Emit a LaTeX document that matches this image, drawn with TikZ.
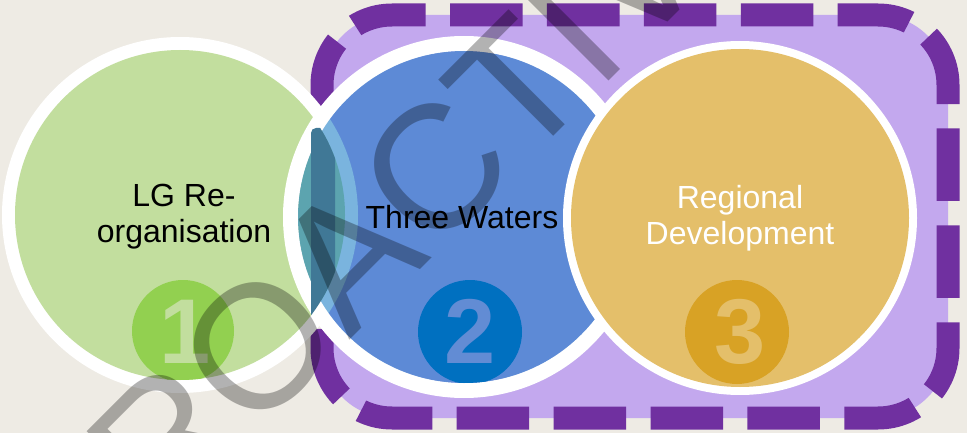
\documentclass[tikz,border=0pt]{standalone}
\usepackage{fontspec}
\setmainfont{Liberation Sans}
\definecolor{bgc}{RGB}{238,235,228}
\definecolor{purpleFill}{RGB}{195,168,238}
\definecolor{purpleDash}{RGB}{112,48,160}
\definecolor{greenF}{RGB}{194,222,158}
\definecolor{greenN}{RGB}{146,208,80}
\definecolor{blueN}{RGB}{0,112,192}
\definecolor{blueVis}{RGB}{98,140,212}
\definecolor{goldF}{RGB}{228,191,106}
\definecolor{goldN}{RGB}{216,162,37}
\definecolor{bandc}{RGB}{64,120,150}
\begin{document}
\begin{tikzpicture}[x=1pt,y=-1pt,
  lbl/.style={font=\fontsize{32}{36}\selectfont, align=center, inner sep=0pt},
  digit/.style={font=\fontsize{92}{92}\selectfont\bfseries, inner sep=0pt, anchor=base},
  ring/.style={white}]
\useasboundingbox (0,0) rectangle (967,433);
\clip (0,0) rectangle (967,433);
\fill[bgc] (0,0) rectangle (967,433);
% purple dashed group
\filldraw[fill=purpleFill, draw=purpleDash, line width=23pt,
  dash pattern=on 72.5pt off 24.39pt, rounded corners=70pt]
  (477,15) -- (948,15) -- (948,418) -- (322,418) -- (322,15) -- cycle;
% green circle
\fill[ring] (180,215) circle (178);
\fill[greenF] (180,215) circle (165);
\begin{scope}
  \clip (180,215) circle (165);
  \fill[greenN] (183,331) circle (51);
\end{scope}
\node[digit, text=greenF] (n1) at (185,363) {1};
% blue circle
\draw[ring, line width=15pt] (464,217) circle (173.5);
\fill[blueN, fill opacity=0.52] (464,217) circle (166);
\begin{scope}
  \clip (180,215) circle (165);
  \fill[bandc, rounded corners=5pt] (311,128) rectangle (335,320);
\end{scope}
\begin{scope}
  \clip (464,217) circle (166);
  \fill[blueN] (470,332) circle (52);
\end{scope}
\node[digit, text=blueVis] (n2) at (470,363) {2};
% gold circle
\fill[ring] (740,218) circle (177);
\fill[goldF] (740,218) circle (169);
\begin{scope}
  \clip (740,218) circle (169);
  \fill[goldN] (737,332) circle (52);
\end{scope}
\node[digit, text=goldF] (n3) at (740,363) {3};
% labels
\node[lbl, text=black] (lg) at (184,217) {LG Re-\\organisation};
\node[lbl, text=black, anchor=base] (tw) at (462,228) {Three Waters};
\node[lbl, text=white] (rd) at (740,218) {Regional\\Development};
% watermark
\node[font=\fontsize{176}{176}\selectfont, text=black, text opacity=0.3,
  inner sep=0pt, anchor=base, rotate=45] (wm) at (439,251) {PROACTIVE};
\end{tikzpicture}
\end{document}
